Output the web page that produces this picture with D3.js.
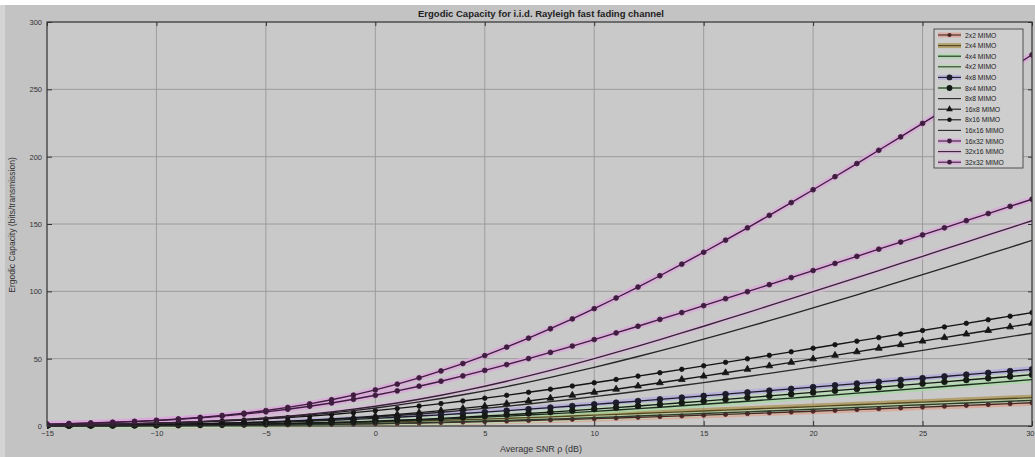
<!DOCTYPE html>
<html>
<head>
<meta charset="utf-8">
<script src="https://cdn.jsdelivr.net/npm/d3@7"></script>
<style>
body { margin: 0; background: #fff; }
svg { display: block; font-family: "Liberation Sans", Arial, sans-serif; }
</style>
</head>
<body>
<div id="chart"></div>
<script>
// SNR grid (dB) and tick labels
const snrDb = [-15,-14,-13,-12,-11,-10,-9,-8,-7,-6,-5,-4,-3,-2,-1,0,1,2,3,4,5,6,7,8,9,10,11,12,13,14,15,16,17,18,19,20,21,22,23,24,25,26,27,28,29,30];
const xTicks = [-15,-10,-5,0,5,10,15,20,25,30];
const yTicks = [0,50,100,150,200,250,300];

// ergodic capacity (bits/transmission)
const cap2x2 = [0.09,0.11,0.14,0.17,0.21,0.26,0.33,0.40,0.49,0.59,0.72,0.86,1.03,1.22,1.43,1.67,1.94,2.23,2.55,2.90,3.27,3.66,4.08,4.51,4.97,5.45,5.94,6.45,6.97,7.51,8.06,8.62,9.20,9.78,10.37,10.97,11.57,12.18,12.80,13.42,14.04,14.67,15.31,15.94,16.58,17.23];
const cap2x4 = [0.17,0.22,0.27,0.33,0.41,0.51,0.62,0.75,0.91,1.10,1.31,1.56,1.83,2.14,2.48,2.85,3.26,3.69,4.16,4.65,5.16,5.70,6.26,6.83,7.42,8.02,8.64,9.26,9.89,10.53,11.17,11.82,12.47,13.12,13.77,14.43,15.09,15.75,16.41,17.07,17.73,18.40,19.06,19.72,20.39,21.05];
const cap4x4 = [0.18,0.22,0.28,0.34,0.43,0.53,0.65,0.80,0.98,1.19,1.44,1.72,2.06,2.44,2.87,3.35,3.88,4.47,5.11,5.80,6.54,7.32,8.15,9.03,9.94,10.89,11.88,12.90,13.95,15.02,16.12,17.25,18.39,19.56,20.74,21.93,23.14,24.36,25.59,26.84,28.09,29.35,30.62,31.89,33.17,34.45];
const cap4x2 = [0.09,0.11,0.14,0.17,0.22,0.27,0.33,0.41,0.51,0.62,0.75,0.91,1.10,1.31,1.56,1.83,2.14,2.48,2.85,3.26,3.69,4.16,4.65,5.16,5.70,6.26,6.83,7.42,8.02,8.64,9.26,9.89,10.53,11.17,11.82,12.47,13.12,13.77,14.43,15.09,15.75,16.41,17.07,17.73,18.40,19.06];
const cap4x8 = [0.35,0.43,0.54,0.67,0.82,1.01,1.24,1.51,1.83,2.20,2.62,3.11,3.66,4.28,4.96,5.71,6.52,7.39,8.31,9.29,10.32,11.40,12.51,13.66,14.84,16.05,17.27,18.52,19.78,21.05,22.34,23.63,24.93,26.24,27.55,28.86,30.18,31.50,32.82,34.14,35.47,36.79,38.12,39.44,40.77,42.10];
const cap8x4 = [0.18,0.22,0.28,0.35,0.43,0.54,0.67,0.82,1.01,1.24,1.51,1.83,2.20,2.62,3.11,3.66,4.28,4.96,5.71,6.52,7.39,8.31,9.29,10.32,11.40,12.51,13.66,14.84,16.05,17.27,18.52,19.78,21.05,22.34,23.63,24.93,26.24,27.55,28.86,30.18,31.50,32.82,34.14,35.47,36.79,38.12];
const cap8x8 = [0.35,0.44,0.55,0.69,0.85,1.05,1.30,1.60,1.95,2.37,2.87,3.45,4.11,4.88,5.74,6.70,7.77,8.94,10.22,11.59,13.07,14.64,16.31,18.05,19.88,21.79,23.76,25.80,27.90,30.05,32.25,34.50,36.78,39.11,41.47,43.86,46.28,48.72,51.19,53.67,56.18,58.70,61.23,63.78,66.34,68.91];
const cap16x8 = [0.36,0.45,0.56,0.70,0.87,1.08,1.34,1.65,2.03,2.48,3.02,3.65,4.39,5.25,6.22,7.32,8.56,9.92,11.41,13.03,14.77,16.63,18.59,20.65,22.80,25.03,27.32,29.68,32.09,34.54,37.04,39.56,42.11,44.68,47.26,49.86,52.47,55.10,57.72,60.36,63.00,65.64,68.29,70.93,73.58,76.24];
const cap8x16 = [0.70,0.87,1.08,1.34,1.65,2.03,2.48,3.02,3.65,4.39,5.25,6.22,7.32,8.56,9.92,11.41,13.03,14.77,16.63,18.59,20.65,22.80,25.03,27.32,29.68,32.09,34.54,37.04,39.56,42.11,44.68,47.26,49.86,52.47,55.10,57.72,60.36,63.00,65.64,68.29,70.93,73.58,76.24,78.89,81.54,84.20];
const cap16x16 = [0.71,0.88,1.10,1.37,1.70,2.11,2.60,3.19,3.90,4.75,5.74,6.90,8.23,9.75,11.47,13.40,15.53,17.88,20.43,23.19,26.14,29.29,32.61,36.11,39.77,43.57,47.52,51.60,55.79,60.10,64.50,68.99,73.57,78.22,82.94,87.72,92.56,97.44,102.38,107.35,112.35,117.39,122.46,127.56,132.68,137.82];
const cap16x32 = [1.40,1.74,2.16,2.67,3.30,4.05,4.96,6.04,7.31,8.79,10.49,12.44,14.65,17.11,19.84,22.82,26.06,29.54,33.25,37.18,41.30,45.60,50.05,54.65,59.36,64.18,69.09,74.07,79.12,84.21,89.35,94.52,99.73,104.95,110.19,115.45,120.72,125.99,131.28,136.57,141.87,147.17,152.47,157.78,163.08,168.39];
const cap32x16 = [0.71,0.89,1.12,1.40,1.74,2.16,2.67,3.30,4.05,4.96,6.04,7.31,8.79,10.49,12.44,14.65,17.11,19.84,22.82,26.06,29.54,33.25,37.18,41.30,45.60,50.05,54.65,59.36,64.18,69.09,74.07,79.12,84.21,89.35,94.52,99.73,104.95,110.19,115.45,120.72,125.99,131.28,136.57,141.87,147.17,152.47];
const cap32x32 = [1.42,1.77,2.21,2.75,3.41,4.22,5.20,6.39,7.81,9.50,11.48,13.79,16.46,19.50,22.95,26.80,31.07,35.76,40.86,46.38,52.28,58.57,65.22,72.22,79.53,87.15,95.04,103.19,111.58,120.19,129.00,137.99,147.14,156.44,165.88,175.44,185.12,194.89,204.75,214.69,224.71,234.79,244.93,255.12,265.36,275.64];

const seriesLabels = ["2x2 MIMO","2x4 MIMO","4x4 MIMO","4x2 MIMO","4x8 MIMO","8x4 MIMO","8x8 MIMO","16x8 MIMO","8x16 MIMO","16x16 MIMO","16x32 MIMO","32x16 MIMO","32x32 MIMO"];
const seriesValues = [cap2x2,cap2x4,cap4x4,cap4x2,cap4x8,cap8x4,cap8x8,cap16x8,cap8x16,cap16x16,cap16x32,cap32x16,cap32x32];

// look of each curve
const lineStyles = {
  "2x2 MIMO":   {stroke: "#4b2626", glow: "#dba08f", symbol: d3.symbolCircle, size: 14},
  "2x4 MIMO":   {stroke: "#54461f", glow: "#a99250"},
  "4x4 MIMO":   {stroke: "#1f2d20", glow: "#a6d9a2"},
  "4x2 MIMO":   {stroke: "#2c3a2c", glow: "#b9d8b1"},
  "4x8 MIMO":   {stroke: "#1c1c2c", glow: "#b3a9dc", symbol: d3.symbolCircle, size: 26},
  "8x4 MIMO":   {stroke: "#151a15", glow: "#bfd9bb", symbol: d3.symbolCircle, size: 26},
  "8x8 MIMO":   {stroke: "#2a2a2a"},
  "16x8 MIMO":  {stroke: "#161616", symbol: d3.symbolTriangle, size: 20},
  "8x16 MIMO":  {stroke: "#141414", symbol: d3.symbolCircle, size: 16},
  "16x16 MIMO": {stroke: "#262626"},
  "16x32 MIMO": {stroke: "#3f1d3f", glow: "#dba6db", symbol: d3.symbolCircle, size: 18},
  "32x16 MIMO": {stroke: "#352235", glow: "#d6b9d6"},
  "32x32 MIMO": {stroke: "#3f1d3f", glow: "#dba6db", symbol: d3.symbolCircle, size: 18}
};

const series = seriesLabels.map((label, i) => ({
  label: label,
  style: lineStyles[label],
  values: seriesValues[i].map((v, j) => ({snr: snrDb[j], cap: v}))
}));

// Chart dimensions
const width = 1035;
const height = 457;
const plotLeft = 47, plotRight = 1032, plotTop = 22, plotBottom = 426;

const svg = d3.select("#chart").append("svg")
.attr("width", width)
.attr("height", height);

// figure background
svg.append("rect").attr("x", 0).attr("y", 0).attr("width", width).attr("height", height).attr("fill", "#fff");
svg.append("rect").attr("x", 0).attr("y", 5).attr("width", 5).attr("height", height - 5).attr("fill", "#d4d4d4");
svg.append("rect").attr("x", 5).attr("y", 5).attr("width", width - 5).attr("height", height - 5).attr("fill", "#c3c3c3");
svg.append("rect")
.attr("x", plotLeft).attr("y", plotTop)
.attr("width", plotRight - plotLeft).attr("height", plotBottom - plotTop)
.attr("fill", "#c9c9c9");

const x = d3.scaleLinear().domain([-15, 30]).range([plotLeft, plotRight]);
const y = d3.scaleLinear().domain([0, 300]).range([plotBottom, plotTop]);

// grid
svg.append("g").selectAll("line").data(xTicks).join("line")
.attr("x1", d => x(d)).attr("x2", d => x(d))
.attr("y1", plotTop).attr("y2", plotBottom)
.attr("stroke", "#979797").attr("stroke-width", 0.9);
svg.append("g").selectAll("line").data(yTicks).join("line")
.attr("x1", plotLeft).attr("x2", plotRight)
.attr("y1", d => y(d)).attr("y2", d => y(d))
.attr("stroke", "#979797").attr("stroke-width", 0.9);

// curves
svg.append("clipPath").attr("id", "plotClip")
.append("rect")
.attr("x", plotLeft).attr("y", plotTop)
.attr("width", plotRight - plotLeft).attr("height", plotBottom - plotTop + 4);

const curveGroup = svg.append("g").attr("clip-path", "url(#plotClip)");
const line = d3.line().x(d => x(d.snr)).y(d => y(d.cap));

series.filter(s => s.style.glow).forEach(s => {
  curveGroup.append("path")
  .attr("d", line(s.values))
  .attr("fill", "none")
  .attr("stroke", s.style.glow)
  .attr("stroke-width", 6)
  .attr("stroke-opacity", 0.75);
});

series.forEach(s => {
  curveGroup.append("path")
  .attr("d", line(s.values))
  .attr("fill", "none")
  .attr("stroke", s.style.stroke)
  .attr("stroke-width", 1.35);

  if (s.style.symbol) {
    curveGroup.append("g").selectAll("path").data(s.values).join("path")
    .attr("transform", d => `translate(${x(d.snr)},${y(d.cap)})`)
    .attr("d", d3.symbol().type(s.style.symbol).size(s.style.size))
    .attr("fill", s.style.stroke)
    .attr("stroke", s.style.stroke)
    .attr("stroke-width", 0.8);
  }
});

// axes (ticks inside, as in the original)
svg.append("g")
.attr("transform", `translate(0,${plotBottom})`)
.call(d3.axisBottom(x).tickValues(xTicks).tickSize(-5).tickSizeOuter(0).tickPadding(5));
svg.append("g")
.attr("transform", `translate(${plotLeft},0)`)
.call(d3.axisLeft(y).tickValues(yTicks).tickSize(-5).tickSizeOuter(0).tickPadding(5));
svg.append("g")
.attr("transform", `translate(0,${plotTop})`)
.call(d3.axisTop(x).tickValues(xTicks).tickSize(-4).tickSizeOuter(0).tickFormat(""));
svg.append("g")
.attr("transform", `translate(${plotRight},0)`)
.call(d3.axisRight(y).tickValues(yTicks).tickSize(-4).tickSizeOuter(0).tickFormat(""));

svg.selectAll(".tick line").attr("stroke", "#333");
svg.selectAll(".domain").attr("stroke", "none");
svg.selectAll(".tick text").attr("fill", "#333").attr("font-size", 7.5).attr("font-family", "Liberation Sans, Arial, sans-serif");
// keep the last x label inside the window
svg.selectAll(".tick text").filter(d => d === 30).attr("text-anchor", "end").attr("x", 2);

svg.append("rect")
.attr("x", plotLeft).attr("y", plotTop)
.attr("width", plotRight - plotLeft).attr("height", plotBottom - plotTop)
.attr("fill", "none")
.attr("stroke", "#333")
.attr("stroke-width", 1.1);

// titles
svg.append("text")
.attr("x", 541).attr("y", 17)
.attr("text-anchor", "middle")
.attr("font-size", 9.5).attr("font-weight", "bold").attr("fill", "#222")
.text("Ergodic Capacity for i.i.d. Rayleigh fast fading channel");

svg.append("text")
.attr("x", 541).attr("y", 452)
.attr("text-anchor", "middle")
.attr("font-size", 9).attr("fill", "#333")
.text("Average SNR \u03c1 (dB)");

svg.append("text")
.attr("transform", "translate(15,225) rotate(-90)")
.attr("text-anchor", "middle")
.attr("font-size", 8.5).attr("fill", "#333")
.text("Ergodic Capacity (bits/transmission)");

// legend
const legend = svg.append("g").attr("transform", "translate(934,29)");
legend.append("rect")
.attr("width", 89).attr("height", 139)
.attr("fill", "#cecece")
.attr("stroke", "#444").attr("stroke-width", 0.9);

const legendRows = legend.selectAll("g").data(series).join("g")
.attr("transform", (d, i) => `translate(0,${6 + i * 10.6})`);

legendRows.filter(d => d.style.glow).append("line")
.attr("x1", 4).attr("x2", 27).attr("y1", 0).attr("y2", 0)
.attr("stroke", d => d.style.glow).attr("stroke-width", 5).attr("stroke-opacity", 0.75);
legendRows.append("line")
.attr("x1", 4).attr("x2", 27).attr("y1", 0).attr("y2", 0)
.attr("stroke", d => d.style.stroke).attr("stroke-width", 1.1);
legendRows.filter(d => d.style.symbol).append("path")
.attr("transform", "translate(15.5,0)")
.attr("d", d => d3.symbol().type(d.style.symbol).size(d.style.size)())
.attr("fill", d => d.style.stroke);
legendRows.append("text")
.attr("x", 31).attr("y", 2.5)
.attr("font-size", 6.8).attr("fill", "#222")
.text(d => d.label);
</script>
</body>
</html>
